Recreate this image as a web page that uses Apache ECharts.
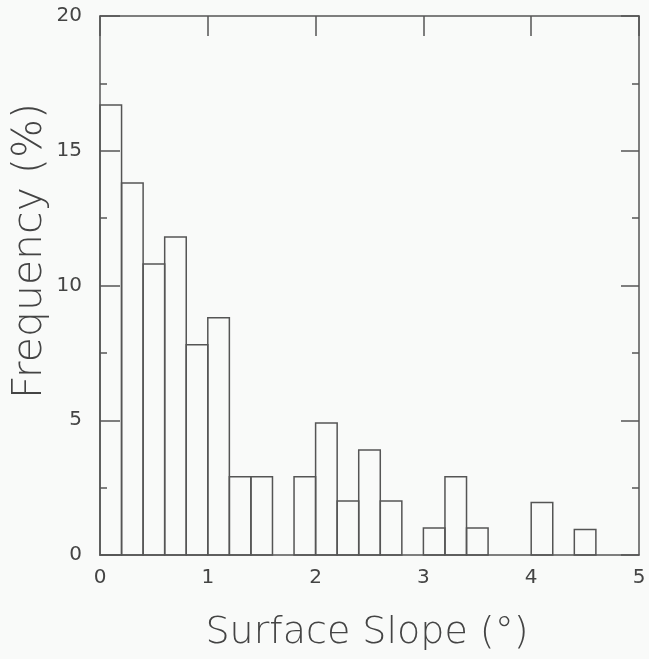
<!DOCTYPE html>
<html lang="en">
<head>
  <meta charset="UTF-8">
  <title>Surface slope histogram</title>
  <script src="https://cdn.jsdelivr.net/npm/echarts@6/dist/echarts.min.js"></script>
  <style>
    html, body { margin: 0; padding: 0; background: #f9faf9; }
  </style>
</head>
<body>
  <div id="main" style="width:649px;height:659px"></div>
  <script>
    // histogram bins (deg), width 0.2
    var binLeft = [0, 0.2, 0.4, 0.6, 0.8, 1.0, 1.2, 1.4, 1.6, 1.8, 2.0, 2.2, 2.4,
                   2.6, 2.8, 3.0, 3.2, 3.4, 3.6, 3.8, 4.0, 4.2, 4.4];
    var binWidth = 0.2;
    // frequency (%)
    var freq = [16.7, 13.8, 10.8, 11.8, 7.8, 8.8, 2.9, 2.9, 0, 2.9, 4.9, 2.0, 3.9,
                2.0, 0, 1.0, 2.9, 1.0, 0, 0, 1.95, 0, 0.95];
    var xTicks = [0, 1, 2, 3, 4, 5];
    var yTicks = [0, 5, 10, 15, 20];

    var ink = '#555';
    var textInk = '#444';
    var tickFont = 'DejaVu Sans';

    var chart = echarts.init(document.getElementById('main'));

    var data = binLeft.map(function (x, i) {
      return [x, x + binWidth, freq[i]];
    });

    var option = {
      backgroundColor: '#f9faf9',
      animation: false,
      grid: { left: 100, right: 10, top: 16, bottom: 104 },
      xAxis: [{
        type: 'value',
        position: 'bottom',
        min: xTicks[0], max: xTicks[xTicks.length - 1], interval: 1,
        axisLine: { show: true, onZero: false, lineStyle: { color: ink, width: 1.5 } },
        axisTick: { show: false },
        splitLine: { show: false },
        axisLabel: { margin: 13, color: textInk, fontFamily: tickFont, fontSize: 20 }
      }, {
        type: 'value',
        position: 'top',
        min: xTicks[0], max: xTicks[xTicks.length - 1], interval: 1,
        axisLine: { show: true, onZero: false, lineStyle: { color: ink, width: 1.5 } },
        axisTick: { show: true, inside: true, length: 20, lineStyle: { color: ink, width: 1.5 } },
        splitLine: { show: false },
        axisLabel: { show: false }
      }],
      yAxis: [{
        type: 'value',
        position: 'left',
        min: yTicks[0], max: yTicks[yTicks.length - 1], interval: 5,
        axisLine: { show: true, onZero: false, lineStyle: { color: ink, width: 1.5 } },
        axisTick: { show: true, inside: true, length: 20, lineStyle: { color: ink, width: 1.5 } },
        minorTick: { show: true, splitNumber: 2, length: 7, lineStyle: { color: ink, width: 1.5 } },
        splitLine: { show: false },
        axisLabel: { margin: 18, color: textInk, fontFamily: tickFont, fontSize: 20 }
      }, {
        type: 'value',
        position: 'right',
        min: yTicks[0], max: yTicks[yTicks.length - 1], interval: 5,
        axisLine: { show: true, onZero: false, lineStyle: { color: ink, width: 1.5 } },
        axisTick: { show: true, inside: true, length: 18, lineStyle: { color: ink, width: 1.5 } },
        minorTick: { show: true, splitNumber: 2, length: 7, lineStyle: { color: ink, width: 1.5 } },
        splitLine: { show: false },
        axisLabel: { show: false }
      }],
      series: [{
        type: 'custom',
        xAxisIndex: 0,
        yAxisIndex: 0,
        encode: { x: [0, 1], y: 2 },
        data: data,
        renderItem: function (params, api) {
          var h = api.value(2);
          if (!h) return null;
          var p0 = api.coord([api.value(0), h]);
          var p1 = api.coord([api.value(1), 0]);
          return {
            type: 'rect',
            shape: { x: p0[0], y: p0[1], width: p1[0] - p0[0], height: p1[1] - p0[1] },
            style: { fill: 'none', stroke: ink, lineWidth: 1.5 }
          };
        }
      }],
      graphic: [{
        type: 'text',
        x: 30, y: 251,
        rotation: Math.PI / 2,
        style: {
          text: 'Frequency (%)',
          font: '200 41px "DejaVu Sans"',
          fill: textInk,
          align: 'center',
          verticalAlign: 'middle'
        }
      }, {
        type: 'text',
        x: 367, y: 633,
        style: {
          text: 'Surface Slope (°)',
          font: '200 38px "DejaVu Sans"',
          fill: textInk,
          align: 'center',
          verticalAlign: 'middle'
        }
      }]
    };

    chart.setOption(option);
  </script>
</body>
</html>
